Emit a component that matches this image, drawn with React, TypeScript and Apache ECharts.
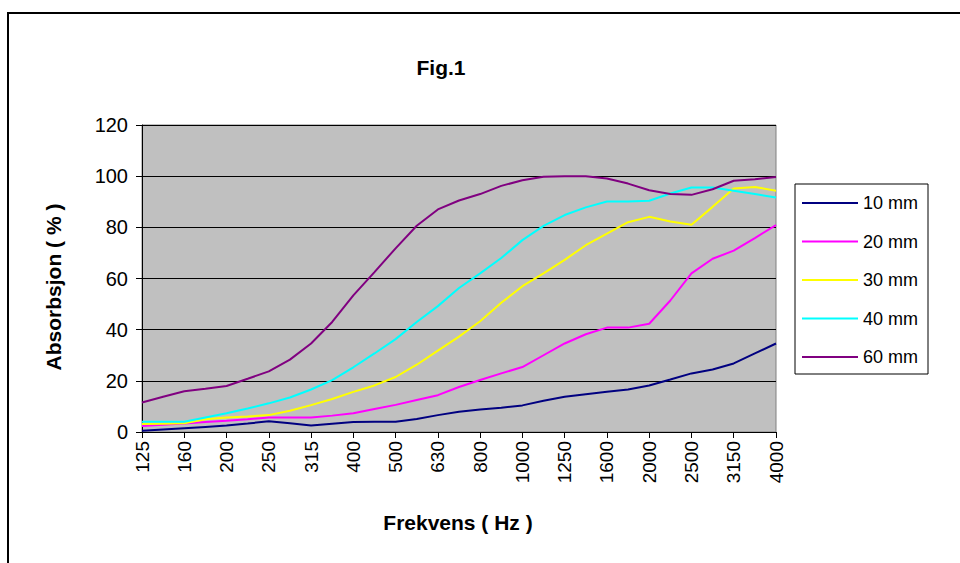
import React, { useEffect, useRef } from "react";
import * as echarts from "echarts";

const freqs = ["125","140","160","180","200","224","250","280","315","355","400","450","500","560","630","710","800","900","1000","1120","1250","1400","1600","1800","2000","2240","2500","2800","3150","3550","4000"];

const mm10 = [0.5, 1.0, 1.5, 2.0, 2.5, 3.3, 4.2, 3.4, 2.5, 3.2, 3.9, 4.0, 4.0, 5.1, 6.6, 7.9, 8.8, 9.5, 10.4, 12.2, 13.8, 14.8, 15.7, 16.6, 18.2, 20.5, 22.9, 24.4, 26.8, 30.7, 34.6];
const mm20 = [2.3, 2.8, 3.3, 3.9, 4.4, 5.0, 5.7, 5.7, 5.7, 6.4, 7.3, 9.0, 10.6, 12.5, 14.4, 17.6, 20.3, 22.9, 25.4, 30.0, 34.6, 38.2, 40.8, 40.8, 42.3, 51.4, 62.0, 67.7, 70.9, 75.8, 80.9];
const mm30 = [3.1, 3.2, 3.4, 5.0, 5.7, 6.1, 6.6, 8.3, 10.5, 12.9, 15.7, 18.2, 21.5, 26.3, 31.8, 37.3, 43.3, 50.5, 57.0, 62.0, 67.3, 73.0, 77.5, 82.0, 84.1, 82.3, 81.0, 88.0, 95.2, 95.8, 94.3];
const mm40 = [4.0, 4.0, 4.0, 5.7, 7.3, 9.2, 11.2, 13.5, 16.6, 20.3, 25.3, 30.7, 36.3, 43.0, 49.2, 56.3, 62.0, 68.0, 75.0, 80.6, 84.8, 87.8, 90.1, 90.1, 90.4, 93.2, 95.6, 95.6, 94.3, 93.0, 91.7];
const mm60 = [11.5, 13.8, 15.9, 16.9, 18.0, 20.8, 23.7, 28.3, 34.6, 43.0, 53.4, 62.5, 71.8, 80.6, 87.0, 90.5, 93.0, 96.2, 98.4, 99.8, 100, 100, 99.1, 97.1, 94.5, 93.0, 92.7, 94.9, 98.2, 98.8, 99.7];

const seriesNames = ["10 mm", "20 mm", "30 mm", "40 mm", "60 mm"];
const seriesColors = ["#000080", "#FF00FF", "#FFFF00", "#00FFFF", "#800080"];
const seriesData = [mm10, mm20, mm30, mm40, mm60];

const yTicks = { min: 0, max: 120, interval: 20 };

const FONT = "Liberation Sans, Arial, sans-serif";

export default function App() {
  const ref = useRef<HTMLDivElement>(null);
  useEffect(() => {
    if (!ref.current) return;
    const chart = echarts.init(ref.current, undefined, { renderer: "svg" });
    chart.setOption({
      animation: false,
      backgroundColor: "#ffffff",
      textStyle: { fontFamily: FONT },
      grid: {
        left: 142,
        top: 125,
        right: 184,
        bottom: 131,
        show: true,
        backgroundColor: "#C0C0C0",
        borderColor: "#808080",
        borderWidth: 1,
      },
      xAxis: {
        type: "category",
        data: freqs,
        boundaryGap: false,
        axisLine: { lineStyle: { color: "#000", width: 1 } },
        axisTick: { show: true, interval: 1, length: 6, lineStyle: { color: "#000" } },
        axisLabel: {
          interval: 1,
          rotate: 90,
          margin: 9,
          fontSize: 19,
          color: "#000",
          fontFamily: FONT,
        },
        splitLine: { show: false },
      },
      yAxis: {
        type: "value",
        min: yTicks.min,
        max: yTicks.max,
        interval: yTicks.interval,
        axisLine: { show: true, lineStyle: { color: "#000", width: 1 } },
        axisTick: { show: true, length: 6, lineStyle: { color: "#000" } },
        axisLabel: { margin: 14, fontSize: 20, color: "#000", fontFamily: FONT },
        splitLine: { show: true, lineStyle: { color: "#000", width: 1 } },
      },
      legend: {
        orient: "vertical",
        left: 795,
        top: 184,
        data: seriesNames,
        icon: "rect",
        itemWidth: 56,
        itemHeight: 2,
        itemGap: 18.5,
        padding: [9, 10, 7, 7],
        borderColor: "#000",
        borderWidth: 1,
        backgroundColor: "#fff",
        borderRadius: 0,
        textStyle: { fontSize: 18, color: "#000", fontFamily: FONT, lineHeight: 20, height: 20 },
      },
      series: seriesNames.map((name, i) => ({
        name,
        type: "line",
        data: seriesData[i],
        symbol: "none",
        showSymbol: false,
        lineStyle: { color: seriesColors[i], width: 2 },
        itemStyle: { color: seriesColors[i] },
      })),
      graphic: [
        {
          type: "rect",
          shape: { x: 8, y: 13, width: 1000, height: 600 },
          style: { fill: "none", stroke: "#000", lineWidth: 2 },
          silent: true,
        },
        {
          type: "text",
          x: 441,
          y: 67,
          style: {
            text: "Fig.1",
            fontSize: 21,
            fontWeight: "bold",
            fill: "#000",
            fontFamily: FONT,
            align: "center",
            verticalAlign: "middle",
          },
        },
        {
          type: "text",
          x: 53,
          y: 287,
          rotation: Math.PI / 2,
          style: {
            text: "Absorbsjon ( % )",
            fontSize: 21,
            fontWeight: "bold",
            fill: "#000",
            fontFamily: FONT,
            align: "center",
            verticalAlign: "middle",
          },
        },
        {
          type: "text",
          x: 458,
          y: 522,
          style: {
            text: "Frekvens ( Hz )",
            fontSize: 21,
            fontWeight: "bold",
            fill: "#000",
            fontFamily: FONT,
            align: "center",
            verticalAlign: "middle",
          },
        },
      ],
    });
    return () => chart.dispose();
  }, []);
  return (
    <div
      ref={ref}
      style={{ position: "fixed", left: 0, top: 0, width: 960, height: 563 }}
    />
  );
}
